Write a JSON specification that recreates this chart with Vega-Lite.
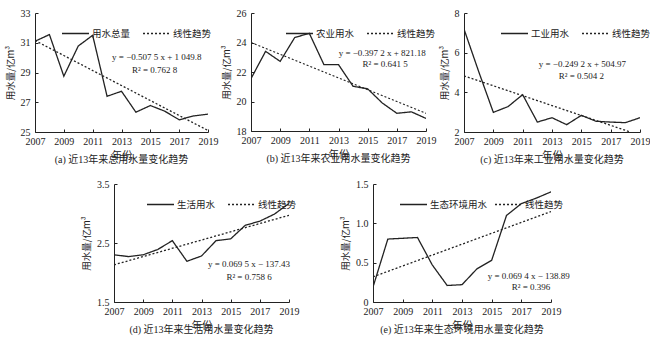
{
  "$schema": "https://vega.github.io/schema/vega-lite/v6.json",
  "background": "white",
  "padding": {"left": 5, "top": 8, "right": 0, "bottom": 5},
  "config": {
    "view": {"stroke": null},
    "font": "Liberation Serif, Noto Sans CJK SC",
    "axis": {
      "grid": false,
      "domainColor": "#222",
      "tickColor": "#222",
      "tickSize": -3,
      "tickCount": 20,
      "labelFont": "Liberation Serif",
      "labelFontSize": 10,
      "labelColor": "#222",
      "labelFlush": false,
      "labelOverlap": false,
      "titleFont": "Noto Sans CJK SC",
      "titleFontSize": 9.5,
      "titleFontWeight": "normal",
      "titleColor": "#222"
    },
    "axisX": {"labelPadding": 7, "titlePadding": 4, "titleFontSize": 10.5},
    "axisY": {"labelPadding": 8, "titlePadding": 5},
    "legend": {
      "orient": "none",
      "direction": "horizontal",
      "title": null,
      "symbolType": "stroke",
      "symbolSize": 729,
      "symbolStrokeWidth": 1.3,
      "symbolStrokeColor": "#222",
      "labelFont": "Noto Sans CJK SC",
      "labelFontSize": 9.5,
      "labelColor": "#222",
      "labelOffset": 2,
      "columnPadding": 9,
      "legendY": 6
    },
    "title": {
      "orient": "bottom",
      "frame": "group",
      "font": "Liberation Serif, Noto Sans CJK SC",
      "fontSize": 10,
      "fontWeight": "normal",
      "color": "#222",
      "offset": -6
    },
    "text": {"font": "Liberation Serif", "fontSize": 9, "color": "#222", "align": "center"}
  },
  "spacing": 14,
  "resolve": {"scale": {"strokeDash": "independent"}, "legend": {"strokeDash": "independent"}},
  "vconcat": [
    {
      "spacing": 3,
      "resolve": {"scale": {"strokeDash": "independent"}, "legend": {"strokeDash": "independent"}},
      "hconcat": [
        {
          "width": 173, "height": 119,
          "title": "(a) 近13年来总用水量变化趋势",
          "layer": [
            {
              "data": {"values": [
                {"year": 2007, "value": 31.1, "series": "用水总量"},
                {"year": 2008, "value": 31.55, "series": "用水总量"},
                {"year": 2009, "value": 28.75, "series": "用水总量"},
                {"year": 2010, "value": 30.78, "series": "用水总量"},
                {"year": 2011, "value": 31.5, "series": "用水总量"},
                {"year": 2012, "value": 27.4, "series": "用水总量"},
                {"year": 2013, "value": 27.74, "series": "用水总量"},
                {"year": 2014, "value": 26.33, "series": "用水总量"},
                {"year": 2015, "value": 26.78, "series": "用水总量"},
                {"year": 2016, "value": 26.4, "series": "用水总量"},
                {"year": 2017, "value": 25.82, "series": "用水总量"},
                {"year": 2018, "value": 26.08, "series": "用水总量"},
                {"year": 2019, "value": 26.2, "series": "用水总量"},
                {"year": 2007, "value": 31.15, "series": "线性趋势"},
                {"year": 2019, "value": 25.1, "series": "线性趋势"}
              ]},
              "mark": {"type": "line", "color": "#222", "strokeWidth": 1.3, "clip": true},
              "encoding": {
                "x": {"field": "year", "type": "quantitative", "title": "年份",
                      "scale": {"domain": [2007, 2019], "nice": false, "zero": false},
                      "axis": {"values": [2007, 2009, 2011, 2013, 2015, 2017, 2019], "format": "d", "tickCount": 20}},
                "y": {"field": "value", "type": "quantitative", "title": "用水量/亿m³",
                      "scale": {"domain": [25, 33], "nice": false, "zero": false},
                      "axis": {"values": [25, 27, 29, 31, 33], "format": "d", "tickCount": 20}},
                "strokeDash": {"field": "series", "type": "nominal",
                      "scale": {"domain": ["用水总量", "线性趋势"], "range": [[1, 0], [2, 2]]},
                      "legend": {"legendX": 26}}
              }
            },
            {
              "data": {"values": [{"label": "y = −0.507 5 x + 1 049.8"}]},
              "mark": {"type": "text"},
              "encoding": {"text": {"field": "label"}, "x": {"datum": 2015.45}, "y": {"datum": 30.05}}
            },
            {
              "data": {"values": [{"label": "R² = 0.762 8"}]},
              "mark": {"type": "text"},
              "encoding": {"text": {"field": "label"}, "x": {"datum": 2015.3}, "y": {"datum": 29.2}}
            }
          ]
        },
        {
          "width": 175, "height": 118,
          "title": "(b) 近13年来农业用水量变化趋势",
          "layer": [
            {
              "data": {"values": [
                {"year": 2007, "value": 21.55, "series": "农业用水"},
                {"year": 2008, "value": 23.4, "series": "农业用水"},
                {"year": 2009, "value": 22.72, "series": "农业用水"},
                {"year": 2010, "value": 24.34, "series": "农业用水"},
                {"year": 2011, "value": 24.62, "series": "农业用水"},
                {"year": 2012, "value": 22.5, "series": "农业用水"},
                {"year": 2013, "value": 22.5, "series": "农业用水"},
                {"year": 2014, "value": 21.03, "series": "农业用水"},
                {"year": 2015, "value": 20.86, "series": "农业用水"},
                {"year": 2016, "value": 19.9, "series": "农业用水"},
                {"year": 2017, "value": 19.2, "series": "农业用水"},
                {"year": 2018, "value": 19.3, "series": "农业用水"},
                {"year": 2019, "value": 18.85, "series": "农业用水"},
                {"year": 2007, "value": 24.0, "series": "线性趋势"},
                {"year": 2019, "value": 19.2, "series": "线性趋势"}
              ]},
              "mark": {"type": "line", "color": "#222", "strokeWidth": 1.3, "clip": true},
              "encoding": {
                "x": {"field": "year", "type": "quantitative", "title": "年份",
                      "scale": {"domain": [2007, 2019], "nice": false, "zero": false},
                      "axis": {"values": [2007, 2009, 2011, 2013, 2015, 2017, 2019], "format": "d", "tickCount": 20}},
                "y": {"field": "value", "type": "quantitative", "title": "用水量/亿m³",
                      "scale": {"domain": [18, 26], "nice": false, "zero": false},
                      "axis": {"values": [18, 20, 22, 24, 26], "format": "d", "tickCount": 20}},
                "strokeDash": {"field": "series", "type": "nominal",
                      "scale": {"domain": ["农业用水", "线性趋势"], "range": [[1, 0], [2, 2]]},
                      "legend": {"legendX": 34}}
              }
            },
            {
              "data": {"values": [{"label": "y = −0.397 2 x + 821.18"}]},
              "mark": {"type": "text"},
              "encoding": {"text": {"field": "label"}, "x": {"datum": 2016.0}, "y": {"datum": 23.3}}
            },
            {
              "data": {"values": [{"label": "R² = 0.641 5"}]},
              "mark": {"type": "text"},
              "encoding": {"text": {"field": "label"}, "x": {"datum": 2016.2}, "y": {"datum": 22.55}}
            }
          ]
        },
        {
          "width": 176, "height": 119,
          "title": "(c) 近13年来工业用水量变化趋势",
          "layer": [
            {
              "data": {"values": [
                {"year": 2007, "value": 7.19, "series": "工业用水"},
                {"year": 2008, "value": 5.05, "series": "工业用水"},
                {"year": 2009, "value": 2.99, "series": "工业用水"},
                {"year": 2010, "value": 3.28, "series": "工业用水"},
                {"year": 2011, "value": 3.88, "series": "工业用水"},
                {"year": 2012, "value": 2.5, "series": "工业用水"},
                {"year": 2013, "value": 2.72, "series": "工业用水"},
                {"year": 2014, "value": 2.37, "series": "工业用水"},
                {"year": 2015, "value": 2.84, "series": "工业用水"},
                {"year": 2016, "value": 2.54, "series": "工业用水"},
                {"year": 2017, "value": 2.5, "series": "工业用水"},
                {"year": 2018, "value": 2.47, "series": "工业用水"},
                {"year": 2019, "value": 2.72, "series": "工业用水"},
                {"year": 2007, "value": 4.83, "series": "线性趋势"},
                {"year": 2018.34, "value": 2.0, "series": "线性趋势"}
              ]},
              "mark": {"type": "line", "color": "#222", "strokeWidth": 1.3, "clip": true},
              "encoding": {
                "x": {"field": "year", "type": "quantitative", "title": "年份",
                      "scale": {"domain": [2007, 2019], "nice": false, "zero": false},
                      "axis": {"values": [2007, 2009, 2011, 2013, 2015, 2017, 2019], "format": "d", "tickCount": 20}},
                "y": {"field": "value", "type": "quantitative", "title": "用水量/亿m³",
                      "scale": {"domain": [2, 8], "nice": false, "zero": false},
                      "axis": {"values": [2, 4, 6, 8], "format": "d", "tickCount": 20}},
                "strokeDash": {"field": "series", "type": "nominal",
                      "scale": {"domain": ["工业用水", "线性趋势"], "range": [[1, 0], [2, 2]]},
                      "legend": {"legendX": 36}}
              }
            },
            {
              "data": {"values": [{"label": "y = −0.249 2 x + 504.97"}]},
              "mark": {"type": "text"},
              "encoding": {"text": {"field": "label"}, "x": {"datum": 2015.07}, "y": {"datum": 5.45}}
            },
            {
              "data": {"values": [{"label": "R² = 0.504 2"}]},
              "mark": {"type": "text"},
              "encoding": {"text": {"field": "label"}, "x": {"datum": 2015.0}, "y": {"datum": 4.8}}
            }
          ]
        }
      ]
    },
    {
      "spacing": 41,
      "resolve": {"scale": {"strokeDash": "independent"}, "legend": {"strokeDash": "independent"}},
      "hconcat": [
        {
          "width": 5, "height": 10,
          "data": {"values": [{"label": ""}]},
          "mark": {"type": "text", "opacity": 0},
          "encoding": {"text": {"field": "label"}}
        },
        {
          "width": 175, "height": 118,
          "title": "(d) 近13年来生活用水量变化趋势",
          "layer": [
            {
              "data": {"values": [
                {"year": 2007, "value": 2.30, "series": "生活用水"},
                {"year": 2008, "value": 2.27, "series": "生活用水"},
                {"year": 2009, "value": 2.30, "series": "生活用水"},
                {"year": 2010, "value": 2.39, "series": "生活用水"},
                {"year": 2011, "value": 2.54, "series": "生活用水"},
                {"year": 2012, "value": 2.19, "series": "生活用水"},
                {"year": 2013, "value": 2.28, "series": "生活用水"},
                {"year": 2014, "value": 2.54, "series": "生活用水"},
                {"year": 2015, "value": 2.57, "series": "生活用水"},
                {"year": 2016, "value": 2.80, "series": "生活用水"},
                {"year": 2017, "value": 2.87, "series": "生活用水"},
                {"year": 2018, "value": 2.99, "series": "生活用水"},
                {"year": 2019, "value": 3.17, "series": "生活用水"},
                {"year": 2007, "value": 2.13, "series": "线性趋势"},
                {"year": 2019, "value": 2.97, "series": "线性趋势"}
              ]},
              "mark": {"type": "line", "color": "#222", "strokeWidth": 1.3, "clip": true},
              "encoding": {
                "x": {"field": "year", "type": "quantitative", "title": "年份",
                      "scale": {"domain": [2007, 2019], "nice": false, "zero": false},
                      "axis": {"values": [2007, 2009, 2011, 2013, 2015, 2017, 2019], "format": "d", "tickCount": 20}},
                "y": {"field": "value", "type": "quantitative", "title": "用水量/亿m³",
                      "scale": {"domain": [1.5, 3.5], "nice": false, "zero": false},
                      "axis": {"values": [1.5, 2.5, 3.5], "format": ".1f", "tickCount": 20}},
                "strokeDash": {"field": "series", "type": "nominal",
                      "scale": {"domain": ["生活用水", "线性趋势"], "range": [[1, 0], [2, 2]]},
                      "legend": {"legendX": 32}}
              }
            },
            {
              "data": {"values": [{"label": "y = 0.069 5 x − 137.43"}]},
              "mark": {"type": "text"},
              "encoding": {"text": {"field": "label"}, "x": {"datum": 2016.26}, "y": {"datum": 2.14}}
            },
            {
              "data": {"values": [{"label": "R² = 0.758 6"}]},
              "mark": {"type": "text"},
              "encoding": {"text": {"field": "label"}, "x": {"datum": 2016.26}, "y": {"datum": 1.92}}
            }
          ]
        },
        {
          "width": 178, "height": 118,
          "title": "(e) 近13年来生态环境用水量变化趋势",
          "layer": [
            {
              "data": {"values": [
                {"year": 2007, "value": 0.19, "series": "生态环境用水"},
                {"year": 2008, "value": 0.80, "series": "生态环境用水"},
                {"year": 2009, "value": 0.81, "series": "生态环境用水"},
                {"year": 2010, "value": 0.82, "series": "生态环境用水"},
                {"year": 2011, "value": 0.47, "series": "生态环境用水"},
                {"year": 2012, "value": 0.21, "series": "生态环境用水"},
                {"year": 2013, "value": 0.22, "series": "生态环境用水"},
                {"year": 2014, "value": 0.42, "series": "生态环境用水"},
                {"year": 2015, "value": 0.53, "series": "生态环境用水"},
                {"year": 2016, "value": 1.10, "series": "生态环境用水"},
                {"year": 2017, "value": 1.25, "series": "生态环境用水"},
                {"year": 2018, "value": 1.32, "series": "生态环境用水"},
                {"year": 2019, "value": 1.40, "series": "生态环境用水"},
                {"year": 2007, "value": 0.32, "series": "线性趋势"},
                {"year": 2019, "value": 1.15, "series": "线性趋势"}
              ]},
              "mark": {"type": "line", "color": "#222", "strokeWidth": 1.3, "clip": true},
              "encoding": {
                "x": {"field": "year", "type": "quantitative", "title": "年份",
                      "scale": {"domain": [2007, 2019], "nice": false, "zero": false},
                      "axis": {"values": [2007, 2009, 2011, 2013, 2015, 2017, 2019], "format": "d", "tickCount": 20}},
                "y": {"field": "value", "type": "quantitative", "title": "用水量/亿m³",
                      "scale": {"domain": [0, 1.5], "nice": false, "zero": false},
                      "axis": {"values": [0, 0.5, 1, 1.5], "tickCount": 20, "labelExpr": "datum.value == 0 ? '0' : format(datum.value, '.1f')"}},
                "strokeDash": {"field": "series", "type": "nominal",
                      "scale": {"domain": ["生态环境用水", "线性趋势"], "range": [[1, 0], [2, 2]]},
                      "legend": {"legendX": 26, "columnPadding": 4}}
              }
            },
            {
              "data": {"values": [{"label": "y = 0.069 4 x − 138.89"}]},
              "mark": {"type": "text"},
              "encoding": {"text": {"field": "label"}, "x": {"datum": 2017.5}, "y": {"datum": 0.33}}
            },
            {
              "data": {"values": [{"label": "R² = 0.396"}]},
              "mark": {"type": "text"},
              "encoding": {"text": {"field": "label"}, "x": {"datum": 2017.65}, "y": {"datum": 0.19}}
            }
          ]
        }
      ]
    }
  ]
}
